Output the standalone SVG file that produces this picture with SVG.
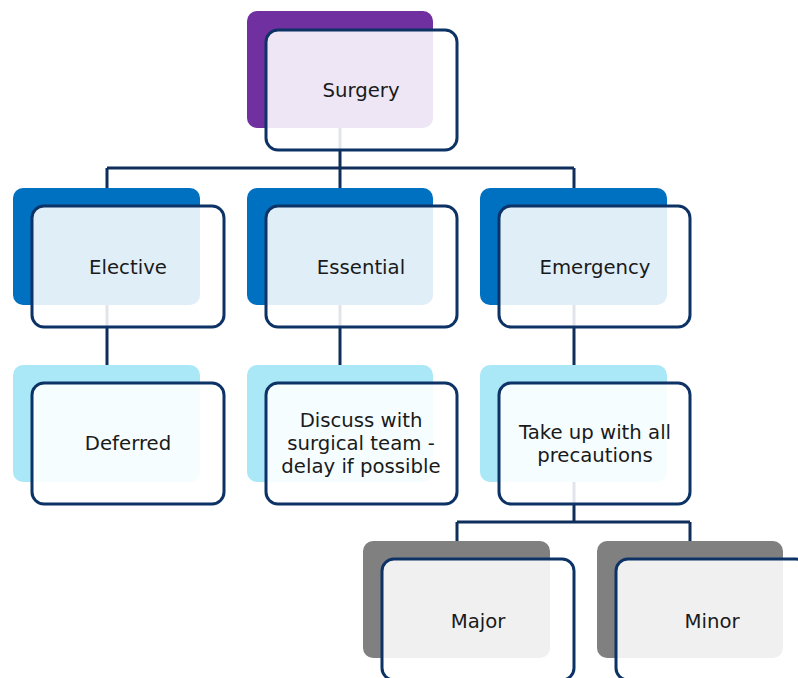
<svg xmlns="http://www.w3.org/2000/svg" width="798" height="678" viewBox="0 0 798 678">
<style>
.back{stroke:none}
.front{fill:#ffffff;fill-opacity:0.88;stroke:#0d3266;stroke-width:3}
.conn{fill:none;stroke:#0f2e5c;stroke-width:3}
text{font-family:"DejaVu Sans","Liberation Sans",sans-serif;font-size:19.7px;fill:#1a1a1a;text-anchor:middle}
</style>
<rect width="798" height="678" fill="#ffffff"/>
<g id="connectors">
<path class="conn" d="M340 128 V168 M107 168 H574 M107 168 V188 M340 168 V188 M574 168 V188"/>
<path class="conn" d="M107 305 V365 M340 305 V365 M574 305 V365"/>
<path class="conn" d="M574 482 V522 M457 522 H690 M457 522 V541 M690 522 V541"/>
</g>
<g id="surgery">
<rect class="back" x="247" y="11" width="186" height="117" rx="10" fill="#7030a0"/>
<rect class="front" x="266" y="30" width="191" height="120" rx="12"/>
<text x="361" y="97">Surgery</text>
</g>
<g id="elective">
<rect class="back" x="13" y="188" width="187" height="117" rx="10" fill="#0070c0"/>
<rect class="front" x="32" y="206" width="192" height="121" rx="12" fill-opacity="0.9"/>
<text x="128" y="274">Elective</text>
</g>
<g id="essential">
<rect class="back" x="247" y="188" width="186" height="117" rx="10" fill="#0070c0"/>
<rect class="front" x="266" y="206" width="191" height="121" rx="12" fill-opacity="0.9"/>
<text x="361" y="274">Essential</text>
</g>
<g id="emergency">
<rect class="back" x="480" y="188" width="187" height="117" rx="10" fill="#0070c0"/>
<rect class="front" x="499" y="206" width="191" height="121" rx="12" fill-opacity="0.9"/>
<text x="595" y="274">Emergency</text>
</g>
<g id="deferred">
<rect class="back" x="13" y="365" width="187" height="117" rx="10" fill="#aae8f8"/>
<rect class="front" x="32" y="383" width="192" height="121" rx="12" fill-opacity="0.9"/>
<text x="128" y="450">Deferred</text>
</g>
<g id="discuss">
<rect class="back" x="247" y="365" width="186" height="117" rx="10" fill="#aae8f8"/>
<rect class="front" x="266" y="383" width="191" height="121" rx="12" fill-opacity="0.9"/>
<text x="361" y="427">Discuss with</text>
<text x="361" y="450">surgical team -</text>
<text x="361" y="473">delay if possible</text>
</g>
<g id="takeup">
<rect class="back" x="480" y="365" width="187" height="117" rx="10" fill="#aae8f8"/>
<rect class="front" x="499" y="383" width="191" height="121" rx="12" fill-opacity="0.9"/>
<text x="595" y="439">Take up with all</text>
<text x="595" y="462">precautions</text>
</g>
<g id="major">
<rect class="back" x="363" y="541" width="187" height="117" rx="10" fill="#808080"/>
<rect class="front" x="382" y="559" width="192" height="121" rx="12"/>
<text x="478" y="628">Major</text>
</g>
<g id="minor">
<rect class="back" x="597" y="541" width="186" height="117" rx="10" fill="#808080"/>
<rect class="front" x="616" y="559" width="192" height="121" rx="12"/>
<text x="712" y="628">Minor</text>
</g>
</svg>
